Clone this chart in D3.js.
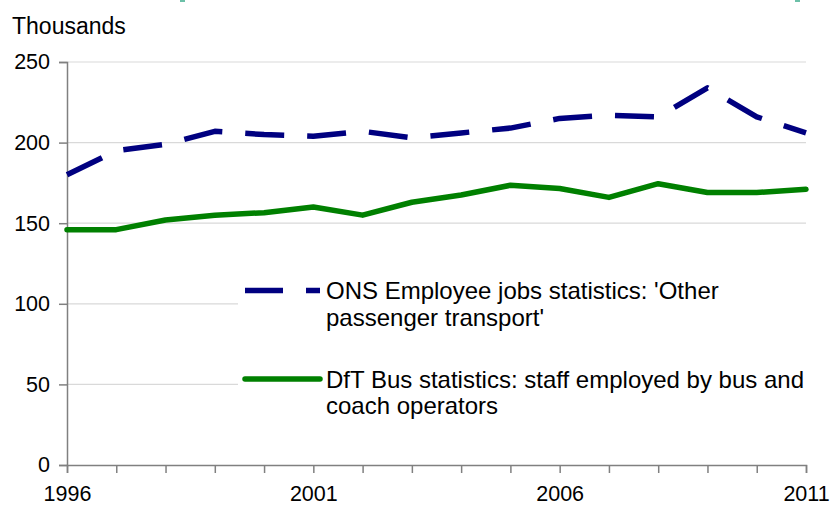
<!DOCTYPE html>
<html><head><meta charset="utf-8">
<script src="https://cdn.jsdelivr.net/npm/d3@7/dist/d3.min.js"></script>
<style>body{margin:0;background:#fff}svg{display:block}text{font-family:"Liberation Sans",Arial,sans-serif;fill:#000}</style>
</head><body>
<svg id="c" width="831" height="506"></svg>
<script>
const years = [1996,1997,1998,1999,2000,2001,2002,2003,2004,2005,2006,2007,2008,2009,2010,2011];
const onsJobs = [180,195,199,207,205,204,207,203,206,209,215,217,216,234,216,206];
const dftStaff = [146,146,152,155,156.5,160,155,163,167.5,173.5,171.5,166,174.5,169,169,171];
const yTicks = [0,50,100,150,200,250];
const xLabels = [1996,2001,2006,2011];
const legendLabels = [["ONS Employee jobs statistics: 'Other","passenger transport'"],["DfT Bus statistics: staff employed by bus and","coach operators"]];

const svg = d3.select("#c");
const x = d3.scaleLinear().domain([1996,2011]).range([67,806]);
const y = d3.scaleLinear().domain([0,250]).range([465,62]);

// top marks
svg.append("rect").attr("x",180).attr("y",0).attr("width",5).attr("height",2).attr("fill","#6cc0a8");
svg.append("rect").attr("x",795).attr("y",0).attr("width",5).attr("height",2).attr("fill","#6cc0a8");

// gridlines
svg.append("g").selectAll("line").data(yTicks.filter(d=>d>0)).join("line")
  .attr("x1",x(1996)).attr("x2",x(2011)).attr("y1",d=>y(d)).attr("y2",d=>y(d))
  .attr("stroke","#d9d9d9").attr("stroke-width",1.2);

// axes
const gy = svg.append("g").attr("transform",`translate(${x(1996)},0)`)
  .call(d3.axisLeft(y).tickValues(yTicks).tickSize(8).tickPadding(9));
gy.select(".domain").attr("stroke","#808080").attr("stroke-width",1.5);
gy.selectAll(".tick line").attr("stroke","#808080").attr("stroke-width",1.5);
gy.selectAll("text").style("font-size","21.5px").attr("font-family","Liberation Sans, Arial, sans-serif");

const gx = svg.append("g").attr("transform",`translate(0,${y(0)})`)
  .call(d3.axisBottom(x).tickValues(years).tickSize(8).tickPadding(13).tickFormat(d=>xLabels.includes(d)?String(d):""));
gx.select(".domain").attr("stroke","#808080").attr("stroke-width",1.5);
gx.selectAll(".tick line").attr("stroke","#808080").attr("stroke-width",1.5);
gx.selectAll("text").style("font-size","21.5px").attr("font-family","Liberation Sans, Arial, sans-serif");

svg.append("text").attr("x",12).attr("y",34).style("font-size","23px").text("Thousands");

const line = d3.line().x((d,i)=>x(years[i])).y(d=>y(d));
svg.append("path").datum(onsJobs).attr("d",line).attr("fill","none")
  .attr("stroke","#000080").attr("stroke-width",5.5).attr("stroke-dasharray","39,23").attr("stroke-linejoin","round");
svg.append("path").datum(dftStaff).attr("d",line).attr("fill","none")
  .attr("stroke","#008000").attr("stroke-width",5.5).attr("stroke-linejoin","round").attr("stroke-linecap","round");

// legend
svg.append("rect").attr("x",238).attr("y",268).attr("width",568).attr("height",162).attr("fill","#fff");
const lg = [{y:290.5, color:"#000080", dash:"38,23", cap:"butt"},{y:379, color:"#008000", dash:null, cap:"round"}];
lg.forEach((l,i)=>{
  svg.append("line").attr("x1",245).attr("x2",320).attr("y1",l.y).attr("y2",l.y)
    .attr("stroke",l.color).attr("stroke-width",5.5).attr("stroke-dasharray",l.dash).attr("stroke-linecap",l.cap);
  legendLabels[i].forEach((t,j)=>{
    svg.append("text").attr("x",326).attr("y",l.y+8.5+j*26.5).style("font-size","24px").text(t);
  });
});
</script>
</body></html>
